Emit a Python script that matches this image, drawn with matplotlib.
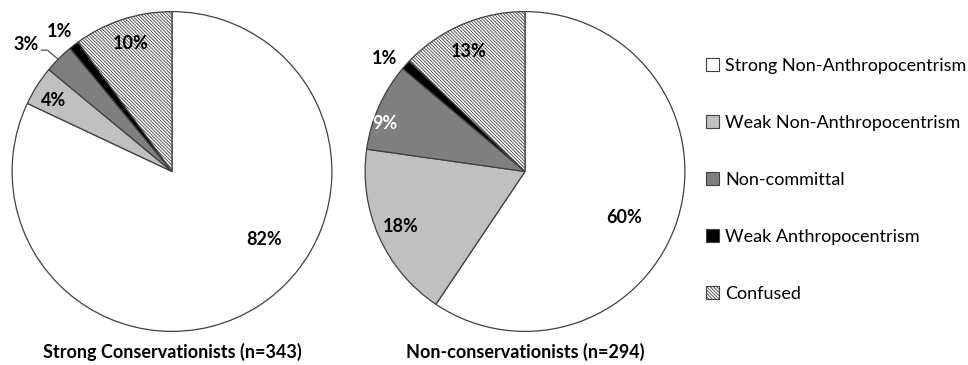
import matplotlib.pyplot as plt
from matplotlib.patches import Patch

plt.rcParams['font.family'] = ['Lato', 'DejaVu Sans']
plt.rcParams['hatch.linewidth'] = 0.6

categories = ['Strong Non-Anthropocentrism', 'Weak Non-Anthropocentrism',
              'Non-committal', 'Weak Anthropocentrism', 'Confused']
strong_cons = [82, 4, 3, 1, 10]
non_cons = [60, 18, 9, 1, 13]
titles = ['Strong Conservationists (n=343)', 'Non-conservationists (n=294)']

colors = ['white', '#c0c0c0', '#7f7f7f', 'black', 'white']
hatches = [None, None, None, None, '\\' * 10]

# label spots, in pie radii from the centre
pos_left = [(0.576, -0.424), (-0.743, 0.443), (-0.910, 0.796), (-0.706, 0.876), (-0.260, 0.802)]
pos_right = [(0.619, -0.288), (-0.774, -0.344), (-0.879, 0.300), (-0.879, 0.709), (-0.353, 0.752)]
txt_right = ['black', 'black', 'white', 'black', 'black']

W, H = 968, 365
fig = plt.figure(figsize=(W / 100, H / 100), dpi=100)


def draw_pie(cx, cy, r, values, pos, txtcol, title):
    ax = fig.add_axes([(cx - r) / W, (H - cy - r) / H, 2 * r / W, 2 * r / H])
    wedges, _ = ax.pie(values, colors=colors, startangle=90, counterclock=False,
                       radius=1, wedgeprops=dict(edgecolor='#404040', linewidth=0.9))
    for w, h in zip(wedges, hatches):
        if h:
            w.set_hatch(h)
    for v, (x, y), c in zip(values, pos, txtcol):
        ax.text(x, y, f'{v}%', ha='center', va='center', fontsize=13,
                fontweight='bold', color=c)
    ax.set_xlim(-1.01, 1.01)
    ax.set_ylim(-1.01, 1.01)
    ax.axis('off')
    fig.text(cx / W, 1 - 352 / H, title, ha='center', va='center',
             fontsize=13, fontweight='bold')
    return ax


ax1 = draw_pie(172, 171.5, 161.5, strong_cons, pos_left, ['black'] * 5, titles[0])
draw_pie(525, 171.5, 161.5, non_cons, pos_right, txt_right, titles[1])

# leader line for the 3% label
ax1.plot([-0.817, -0.780, -0.712], [0.759, 0.759, 0.703], color='#404040', lw=0.8)

handles = [Patch(facecolor=c, edgecolor='#404040', hatch=h, linewidth=0.8)
           for c, h in zip(colors, hatches)]
fig.legend(handles, categories, loc='upper left', bbox_to_anchor=(697 / W, 1 - 49 / H),
           frameon=False, fontsize=13, handlelength=0.7, handleheight=0.7,
           handletextpad=0.35, labelspacing=2.27, borderpad=0)

fig.savefig('out.png', dpi=100)
